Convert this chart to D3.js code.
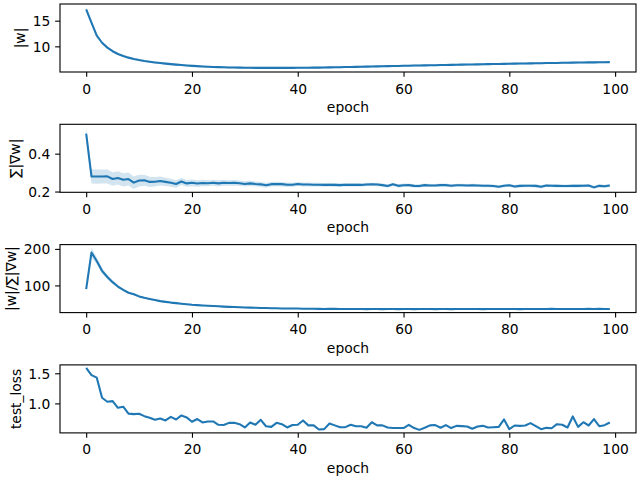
<!DOCTYPE html>
<html>
<head>
<meta charset="utf-8">
<script src="https://cdn.jsdelivr.net/npm/d3@7"></script>
<style>
  body { margin: 0; background: #fff; }
  svg { display: block; }
  text { font-family: "DejaVu Sans", sans-serif; }
</style>
</head>
<body>
<svg width="640" height="480"></svg>
<script>
const epochs = d3.range(100);
const xTicks = [0, 20, 40, 60, 80, 100];

// |w| per epoch
const wNorm = [
  17.2, 14.6, 12.1, 10.7, 9.75, 9.05, 8.5, 8.1, 7.8, 7.55,
  7.33, 7.15, 7.0, 6.86, 6.74, 6.63, 6.53, 6.44, 6.36, 6.28,
  6.2, 6.14, 6.08, 6.03, 5.99, 5.95, 5.92, 5.89, 5.87, 5.85,
  5.83, 5.82, 5.81, 5.8, 5.8, 5.8, 5.8, 5.8, 5.81, 5.81,
  5.82, 5.83, 5.84, 5.85, 5.86, 5.88, 5.9, 5.92, 5.94, 5.96,
  5.98, 6.0, 6.02, 6.05, 6.07, 6.09, 6.11, 6.14, 6.16, 6.18,
  6.21, 6.23, 6.25, 6.27, 6.29, 6.31, 6.33, 6.35, 6.37, 6.39,
  6.41, 6.43, 6.45, 6.47, 6.49, 6.51, 6.53, 6.55, 6.57, 6.59,
  6.61, 6.63, 6.65, 6.67, 6.68, 6.7, 6.72, 6.74, 6.75, 6.77,
  6.79, 6.8, 6.82, 6.84, 6.85, 6.87, 6.88, 6.9, 6.91, 6.93,
];
const wNormSpread = [
  0.45, 0.35, 0.3, 0.26, 0.24, 0.22, 0.21, 0.2, 0.2, 0.2,
  0.2, 0.2, 0.2, 0.2, 0.2, 0.2, 0.2, 0.2, 0.2, 0.2,
  0.2, 0.2, 0.2, 0.2, 0.2, 0.2, 0.2, 0.2, 0.2, 0.2,
  0.2, 0.2, 0.2, 0.2, 0.2, 0.2, 0.2, 0.2, 0.2, 0.2,
  0.2, 0.2, 0.2, 0.2, 0.2, 0.2, 0.2, 0.2, 0.2, 0.2,
  0.2, 0.2, 0.2, 0.2, 0.2, 0.2, 0.2, 0.2, 0.2, 0.2,
  0.2, 0.2, 0.2, 0.2, 0.2, 0.2, 0.2, 0.2, 0.2, 0.2,
  0.2, 0.2, 0.2, 0.2, 0.2, 0.2, 0.2, 0.2, 0.2, 0.2,
  0.2, 0.2, 0.2, 0.2, 0.2, 0.2, 0.2, 0.2, 0.2, 0.2,
  0.2, 0.2, 0.2, 0.2, 0.2, 0.2, 0.2, 0.2, 0.2, 0.2,
];

// sum |grad w| per epoch
const gradSum = [
  0.506, 0.28, 0.279, 0.279, 0.28, 0.266, 0.272, 0.262, 0.266, 0.247,
  0.258, 0.259, 0.251, 0.252, 0.256, 0.251, 0.246, 0.24, 0.253, 0.243,
  0.246, 0.242, 0.245, 0.244, 0.246, 0.243, 0.246, 0.245, 0.246, 0.244,
  0.24, 0.243, 0.24, 0.238, 0.233, 0.239, 0.24, 0.239, 0.236, 0.236,
  0.24, 0.237, 0.237, 0.236, 0.236, 0.235, 0.236, 0.235, 0.234, 0.236,
  0.235, 0.236, 0.235, 0.237, 0.238, 0.237, 0.234, 0.229, 0.238, 0.23,
  0.233, 0.234, 0.23, 0.229, 0.234, 0.232, 0.232, 0.234, 0.234, 0.231,
  0.233, 0.233, 0.232, 0.233, 0.232, 0.231, 0.231, 0.229, 0.225, 0.231,
  0.233, 0.227, 0.23, 0.231, 0.231, 0.23, 0.225, 0.232, 0.231, 0.23,
  0.229, 0.229, 0.23, 0.23, 0.231, 0.232, 0.222, 0.23, 0.228, 0.232,
];
const gradSumSpread = [
  0.033, 0.038, 0.038, 0.037, 0.037, 0.036, 0.035, 0.035, 0.034, 0.033,
  0.031, 0.029, 0.027, 0.025, 0.024, 0.022, 0.021, 0.02, 0.019, 0.018,
  0.018, 0.017, 0.017, 0.016, 0.016, 0.016, 0.015, 0.015, 0.015, 0.014,
  0.014, 0.014, 0.013, 0.013, 0.013, 0.012, 0.012, 0.012, 0.012, 0.011,
  0.011, 0.011, 0.011, 0.01, 0.01, 0.01, 0.01, 0.01, 0.01, 0.009,
  0.009, 0.009, 0.009, 0.009, 0.009, 0.009, 0.009, 0.009, 0.009, 0.009,
  0.009, 0.009, 0.009, 0.009, 0.008, 0.008, 0.008, 0.008, 0.008, 0.008,
  0.008, 0.008, 0.008, 0.008, 0.008, 0.008, 0.008, 0.008, 0.008, 0.008,
  0.008, 0.008, 0.008, 0.008, 0.008, 0.008, 0.008, 0.008, 0.008, 0.008,
  0.008, 0.008, 0.008, 0.008, 0.008, 0.008, 0.008, 0.008, 0.008, 0.008,
];

// |w| / sum |grad w| per epoch
const ratio = [
  90, 190, 167, 140, 123, 109, 97, 88, 80, 76,
  70, 66, 63, 60, 57, 55, 53, 51.5, 50, 48.5,
  47, 46, 45, 44.2, 43.5, 42.8, 42, 41.3, 40.7, 40.2,
  39.7, 39.2, 38.8, 38.4, 38, 37.6, 37.3, 37, 36.8, 36.6,
  36.9, 36.3, 36, 36.1, 35.8, 35.6, 35.8, 35.7, 35.5, 35.6,
  35.4, 35.6, 35.3, 35.2, 35.5, 35.4, 35.1, 35.3, 35.6, 35.2,
  35.4, 35.5, 35.1, 35.3, 35.6, 35.4, 35.2, 35.5, 35.3, 35.1,
  35.4, 35.6, 35.3, 35.5, 35.4, 35.2, 35.6, 35.4, 35.3, 35.5,
  35.6, 35.3, 35.2, 35.5, 35.4, 35.6, 35.3, 35.5, 35.7, 35.4,
  35.6, 35.5, 35.3, 35.6, 35.4, 35.7, 35.5, 35.8, 35.6, 35.5,
];
const ratioSpread = [
  3, 13, 10, 8, 6, 5, 4, 3.5, 3, 3,
  2.8, 2.6, 2.5, 2.4, 2.3, 2.2, 2.1, 2, 2, 2,
  1.9, 1.9, 1.8, 1.8, 1.8, 1.7, 1.7, 1.7, 1.6, 1.6,
  1.6, 1.6, 1.5, 1.5, 1.5, 1.5, 1.5, 1.5, 1.5, 1.5,
  1.5, 1.5, 1.5, 1.5, 1.5, 1.5, 1.5, 1.5, 1.5, 1.5,
  1.5, 1.5, 1.5, 1.5, 1.5, 1.5, 1.5, 1.5, 1.5, 1.5,
  1.5, 1.5, 1.5, 1.5, 1.5, 1.5, 1.5, 1.5, 1.5, 1.5,
  1.5, 1.5, 1.5, 1.5, 1.5, 1.5, 1.5, 1.5, 1.5, 1.5,
  1.5, 1.5, 1.5, 1.5, 1.5, 1.5, 1.5, 1.5, 1.5, 1.5,
  1.5, 1.5, 1.5, 1.5, 1.5, 1.5, 1.5, 1.5, 1.5, 1.5,
];

// test loss per epoch
const testLoss = [
  1.59, 1.47, 1.427, 1.093, 1.027, 1.038, 0.927, 0.945, 0.83, 0.822,
  0.827, 0.788, 0.76, 0.727, 0.75, 0.717, 0.777, 0.733, 0.8, 0.767,
  0.695, 0.74, 0.683, 0.7, 0.7, 0.645, 0.64, 0.677, 0.677, 0.655,
  0.6, 0.683, 0.645, 0.727, 0.62, 0.61, 0.677, 0.655, 0.6, 0.64,
  0.645, 0.717, 0.635, 0.635, 0.567, 0.573, 0.667, 0.635, 0.605, 0.605,
  0.645, 0.62, 0.62, 0.595, 0.687, 0.635, 0.635, 0.6, 0.59, 0.59,
  0.59, 0.645, 0.59, 0.56, 0.595, 0.635, 0.64, 0.595, 0.64, 0.59,
  0.627, 0.622, 0.617, 0.578, 0.617, 0.627, 0.6, 0.605, 0.61, 0.733,
  0.572, 0.633, 0.627, 0.633, 0.672, 0.622, 0.572, 0.594, 0.588, 0.655,
  0.645, 0.6, 0.783, 0.61, 0.687, 0.633, 0.738, 0.622, 0.638, 0.683,
];

const panels = [
  { label: "|w|", values: wNorm, spread: wNormSpread, domain: [5.0, 18.25], ticks: [10, 15], fmt: d3.format("d") },
  { label: "\u2211|\u2207w|", values: gradSum, spread: gradSumSpread, domain: [0.196, 0.555], ticks: [0.2, 0.4], fmt: d3.format(".1f") },
  { label: "|w|/\u2211|\u2207w|", values: ratio, spread: ratioSpread, domain: [25.6, 211.8], ticks: [100, 200], fmt: d3.format("d") },
  { label: "test_loss", values: testLoss, spread: null, domain: [0.51, 1.639], ticks: [1.0, 1.5], fmt: d3.format(".1f") },
];

const svg = d3.select("svg");
const blue = "#1f77b4";
const fontSize = 13.89;
const tickLen = 4.86;
const tickPad = 4.86;

const left = 60;
const right = 636;
const panelTop = [4, 124.3, 244.6, 364.9];
const panelH = 68;

const x = d3.scaleLinear().domain([-4.95, 103.95]).range([left, right]);

panels.forEach((p, i) => {
  const top = panelTop[i];
  const bottom = top + panelH;
  const y = d3.scaleLinear().domain(p.domain).range([bottom, top]);
  const g = svg.append("g");

  // confidence band
  if (p.spread) {
    const area = d3
      .area()
      .x((d) => x(d))
      .y0((d) => y(p.values[d] - p.spread[d]))
      .y1((d) => y(p.values[d] + p.spread[d]));
    g.append("path")
      .datum(epochs)
      .attr("d", area)
      .attr("fill", blue)
      .attr("fill-opacity", 0.2)
      .attr("stroke", "none");
  }

  // line
  const line = d3
    .line()
    .x((d) => x(d))
    .y((d) => y(p.values[d]));
  g.append("path")
    .datum(epochs)
    .attr("d", line)
    .attr("fill", "none")
    .attr("stroke", blue)
    .attr("stroke-width", 2.08)
    .attr("stroke-linejoin", "round");

  // X axis
  const xa = g
    .append("g")
    .attr("transform", "translate(0," + bottom + ")")
    .call(d3.axisBottom(x).tickValues(xTicks).tickSize(tickLen).tickPadding(tickPad));
  xa.select(".domain").remove();
  xa.selectAll("line").attr("stroke", "#000").attr("stroke-width", 1.11);
  xa.selectAll("text")
    .attr("fill", "#000")
    .style("font-size", fontSize + "px")
    .attr("y", 21.5)
    .attr("dy", null);

  // Y axis
  const ya = g
    .append("g")
    .attr("transform", "translate(" + left + ",0)")
    .call(d3.axisLeft(y).tickValues(p.ticks).tickFormat(p.fmt).tickSize(tickLen).tickPadding(tickPad));
  ya.select(".domain").remove();
  ya.selectAll("line").attr("stroke", "#000").attr("stroke-width", 1.11);
  ya.selectAll("text")
    .attr("fill", "#000")
    .style("font-size", fontSize + "px")
    .attr("dy", "0.365em");

  // frame
  g.append("rect")
    .attr("x", left)
    .attr("y", top)
    .attr("width", right - left)
    .attr("height", panelH)
    .attr("fill", "none")
    .attr("stroke", "#000")
    .attr("stroke-width", 1.11);

  // x label
  g.append("text")
    .attr("x", (left + right) / 2)
    .attr("y", bottom + 40)
    .attr("text-anchor", "middle")
    .style("font-size", fontSize + "px")
    .text("epoch");

  // y label, placed left of the tick labels
  const tickBox = ya.node().getBBox();
  const lab = g.append("g");
  lab.append("text")
    .attr("text-anchor", "middle")
    .attr("transform", "rotate(-90)")
    .style("font-size", fontSize + "px")
    .text(p.label);
  const lb = lab.node().getBBox();
  const xRight = left + tickBox.x - 4;
  lab.attr("transform", "translate(" + (xRight - (lb.x + lb.width)) + "," + (top + bottom) / 2 + ")");
});
</script>
</body>
</html>
